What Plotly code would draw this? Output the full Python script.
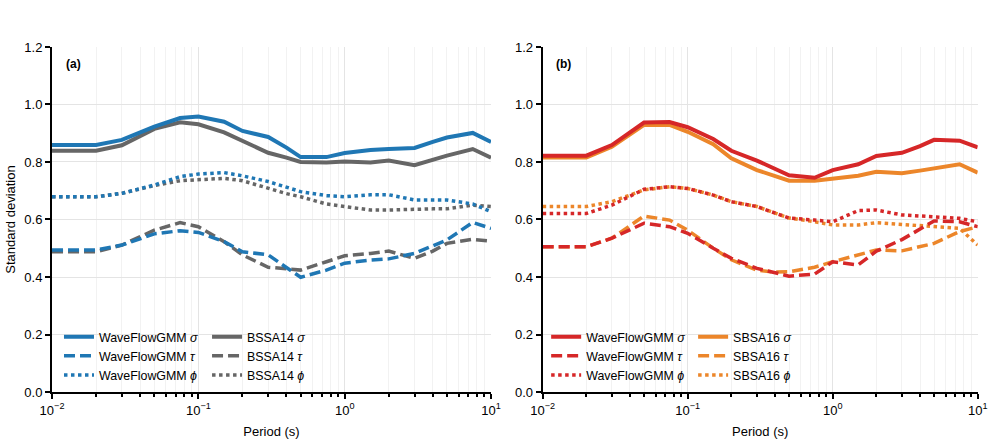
import plotly.graph_objects as go

# ---------------- data ----------------
periods = [0.01, 0.02, 0.03, 0.05, 0.075, 0.1, 0.15, 0.2, 0.3, 0.4,
           0.5, 0.75, 1, 1.5, 2, 3, 4, 5, 7.5, 10]

# panel (a): WaveFlowGMM vs BSSA14
wf_a_sigma = [0.859, 0.859, 0.877, 0.923, 0.953, 0.958, 0.940, 0.908, 0.887, 0.850,
              0.817, 0.817, 0.831, 0.842, 0.845, 0.849, 0.870, 0.885, 0.901, 0.870]
wf_a_tau = [0.494, 0.494, 0.511, 0.550, 0.561, 0.555, 0.523, 0.488, 0.477, 0.431,
            0.399, 0.424, 0.448, 0.459, 0.463, 0.482, 0.510, 0.529, 0.590, 0.569]
wf_a_phi = [0.679, 0.679, 0.691, 0.720, 0.749, 0.758, 0.763, 0.752, 0.732, 0.712,
            0.697, 0.683, 0.679, 0.686, 0.686, 0.668, 0.668, 0.668, 0.654, 0.627]
bssa_sigma = [0.839, 0.839, 0.858, 0.915, 0.938, 0.931, 0.903, 0.875, 0.832, 0.815,
              0.800, 0.798, 0.802, 0.798, 0.805, 0.789, 0.808, 0.822, 0.845, 0.815]
bssa_tau = [0.488, 0.488, 0.511, 0.563, 0.589, 0.575, 0.523, 0.477, 0.434, 0.428,
            0.424, 0.453, 0.474, 0.482, 0.490, 0.465, 0.490, 0.517, 0.531, 0.525]
bssa_phi = [0.679, 0.679, 0.691, 0.718, 0.735, 0.738, 0.743, 0.735, 0.708, 0.690,
            0.679, 0.654, 0.645, 0.633, 0.633, 0.637, 0.637, 0.637, 0.650, 0.645]

# panel (b): WaveFlowGMM vs SBSA16
wf_b_sigma = [0.822, 0.822, 0.859, 0.937, 0.939, 0.921, 0.880, 0.839, 0.805, 0.775,
              0.754, 0.745, 0.772, 0.792, 0.821, 0.832, 0.855, 0.877, 0.874, 0.851]
wf_b_tau = [0.505, 0.505, 0.535, 0.587, 0.575, 0.552, 0.500, 0.465, 0.430, 0.415,
            0.403, 0.410, 0.453, 0.442, 0.490, 0.530, 0.565, 0.595, 0.592, 0.575]
wf_b_phi = [0.621, 0.621, 0.650, 0.705, 0.714, 0.708, 0.685, 0.662, 0.645, 0.621,
            0.605, 0.598, 0.592, 0.631, 0.633, 0.616, 0.612, 0.610, 0.604, 0.592]
sbsa_sigma = [0.816, 0.816, 0.853, 0.929, 0.929, 0.905, 0.862, 0.813, 0.772, 0.750,
              0.735, 0.735, 0.741, 0.752, 0.766, 0.761, 0.770, 0.778, 0.792, 0.763]
sbsa_tau = [0.505, 0.505, 0.535, 0.612, 0.598, 0.563, 0.500, 0.460, 0.424, 0.417,
            0.418, 0.434, 0.453, 0.477, 0.494, 0.491, 0.505, 0.517, 0.558, 0.575]
sbsa_phi = [0.645, 0.645, 0.662, 0.703, 0.714, 0.708, 0.685, 0.662, 0.645, 0.621,
            0.605, 0.592, 0.581, 0.581, 0.589, 0.583, 0.578, 0.575, 0.569, 0.511]

x_tickvals = [0.01, 0.1, 1, 10]
x_ticktext = ["10<sup>\u22122</sup>", "10<sup>\u22121</sup>", "10<sup>0</sup>", "10<sup>1</sup>"]
y_tickvals = [0.0, 0.2, 0.4, 0.6, 0.8, 1.0, 1.2]

# ---------------- styling ----------------
BLUE = "#1f77b4"
GRAY = "#666666"
RED = "#d62728"
ORANGE = "#ec862a"
FONT = "Liberation Sans, Arial, sans-serif"
DASH = "11px,5px"
DOT = "3.5px,3.5px"

fig = go.Figure()

def add(y, name, color, dash, width, xa, ya, legend):
    fig.add_trace(go.Scatter(
        x=periods, y=y, name=name, mode="lines",
        line=dict(color=color, dash=dash, width=width),
        xaxis=xa, yaxis=ya, legend=legend))

# panel (a) - reference model first, WaveFlowGMM on top
add(bssa_sigma, "BSSA14 <i>\u03c3</i>", GRAY, "solid", 4, "x", "y", "legend2")
add(bssa_tau, "BSSA14 <i>\u03c4</i>", GRAY, DASH, 3.5, "x", "y", "legend2")
add(bssa_phi, "BSSA14 <i>\u03d5</i>", GRAY, DOT, 3.5, "x", "y", "legend2")
add(wf_a_sigma, "WaveFlowGMM <i>\u03c3</i>", BLUE, "solid", 4, "x", "y", "legend")
add(wf_a_tau, "WaveFlowGMM <i>\u03c4</i>", BLUE, DASH, 3.5, "x", "y", "legend")
add(wf_a_phi, "WaveFlowGMM <i>\u03d5</i>", BLUE, DOT, 3.5, "x", "y", "legend")

# panel (b)
add(sbsa_sigma, "SBSA16 <i>\u03c3</i>", ORANGE, "solid", 4, "x2", "y2", "legend4")
add(sbsa_tau, "SBSA16 <i>\u03c4</i>", ORANGE, DASH, 3.5, "x2", "y2", "legend4")
add(sbsa_phi, "SBSA16 <i>\u03d5</i>", ORANGE, DOT, 3.5, "x2", "y2", "legend4")
add(wf_b_sigma, "WaveFlowGMM <i>\u03c3</i>", RED, "solid", 4, "x2", "y2", "legend3")
add(wf_b_tau, "WaveFlowGMM <i>\u03c4</i>", RED, DASH, 3.5, "x2", "y2", "legend3")
add(wf_b_phi, "WaveFlowGMM <i>\u03d5</i>", RED, DOT, 3.5, "x2", "y2", "legend3")

minor_vals = [m * 10 ** e for e in (-2, -1, 0) for m in range(2, 10)]

TICK_FS = 13

def xaxis(domain, anchor):
    return dict(
        type="log", range=[-2, 1], domain=domain, anchor=anchor,
        tickmode="array", tickvals=x_tickvals, ticktext=x_ticktext,
        ticks="outside", ticklen=5, tickwidth=2, tickcolor="black",
        showline=True, linecolor="black", linewidth=2,
        showgrid=True, gridcolor="#e4e4e4", gridwidth=1,
        zeroline=False, automargin=False,
        tickfont=dict(size=TICK_FS, color="black", family=FONT),
        title=dict(text="Period (s)", font=dict(size=13, color="black", family=FONT), standoff=10),
        minor=dict(tickmode="array", tickvals=minor_vals, ticks="outside", ticklen=3,
                   tickwidth=1.5, tickcolor="black", showgrid=True,
                   gridcolor="#f2f2f2", gridwidth=1),
    )

def yaxis(anchor, title):
    return dict(
        range=[0, 1.2], domain=[0.1191, 0.8944], anchor=anchor,
        tickmode="array", tickvals=y_tickvals, tickformat=".1f",
        ticks="outside", ticklen=5, tickwidth=2, tickcolor="black",
        showline=True, linecolor="black", linewidth=2,
        showgrid=True, gridcolor="#e4e4e4", gridwidth=1,
        zeroline=False, automargin=False,
        tickfont=dict(size=TICK_FS, color="black", family=FONT),
        title=dict(text=title, font=dict(size=13, color="black", family=FONT), standoff=6),
    )

def legend(x, y):
    return dict(x=x, y=y, xanchor="left", yanchor="top", bgcolor="rgba(0,0,0,0)",
                borderwidth=0, font=dict(size=12.4, color="black", family=FONT),
                tracegroupgap=0, itemwidth=30)

LEG_Y = 0.276
fig.update_layout(
    width=993, height=445,
    margin=dict(l=0, r=0, t=0, b=0),
    paper_bgcolor="white", plot_bgcolor="white",
    font=dict(family=FONT, size=12, color="black"),
    xaxis=xaxis([0.0524, 0.4945], "y"),
    yaxis=yaxis("x", "Standard deviation"),
    xaxis2=xaxis([0.5465, 0.9846], "y2"),
    yaxis2=yaxis("x2", ""),
    legend=legend(0.0594, LEG_Y),
    legend2=legend(0.2085, LEG_Y),
    legend3=legend(0.5500, LEG_Y),
    legend4=legend(0.6980, LEG_Y),
    annotations=[
        dict(text="<b>(a)</b>", xref="x domain", yref="y domain", x=0.027, y=0.951,
             xanchor="left", yanchor="middle", showarrow=False,
             font=dict(size=12, color="black", family=FONT)),
        dict(text="<b>(b)</b>", xref="x2 domain", yref="y2 domain", x=0.027, y=0.951,
             xanchor="left", yanchor="middle", showarrow=False,
             font=dict(size=12, color="black", family=FONT)),
    ],
)

fig.write_html("out.html")
